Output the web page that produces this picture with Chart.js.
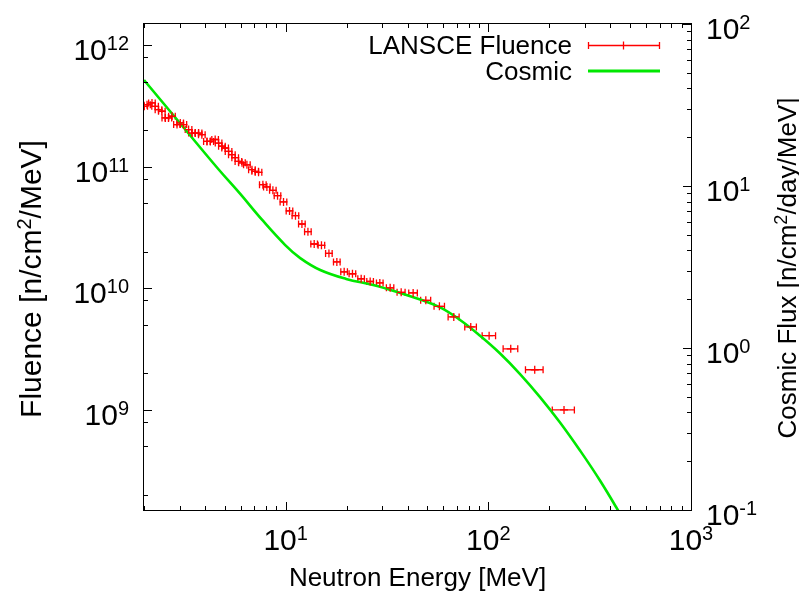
<!DOCTYPE html>
<html>
<head>
<meta charset="utf-8">
<title>Neutron Spectrum</title>
<script src="https://cdn.jsdelivr.net/npm/chart.js@4.4.1/dist/chart.umd.min.js"></script>
<style>
    html, body { margin: 0; padding: 0; background: #fff; }
    #spectrum { display: block; }
</style>
</head>
<body>
<canvas id="spectrum" width="799" height="591"></canvas>
<script>
// LANSCE beam fluence: bin centre, half bin width (MeV), fluence (n/cm^2/MeV)
const lansceEnergy = [
    2.007, 2.07, 2.19, 2.27, 2.36, 2.45, 2.55, 2.64, 2.75, 2.91,
    3.02, 3.13, 3.32, 3.45, 3.58, 3.72, 3.86, 4.09, 4.25, 4.49,
    4.67, 4.85, 5.03, 5.23, 5.43, 5.64, 5.85, 6.09, 6.44, 6.82,
    7.08, 7.35, 7.72, 8.08, 8.65, 9.12, 9.76, 10.45, 11.18, 12.03,
    12.88, 13.83, 15.02, 16.35, 17.89, 19.44, 21.36, 23.58, 26.12, 29.15,
    32.78, 37.15, 42.56, 49.15, 57.36, 67.54, 81.9, 100.9, 129.0, 169.4,
    236.3
];
const lansceBinHalf = [
    0.075, 0.078, 0.082, 0.085, 0.089, 0.092, 0.096, 0.099, 0.103, 0.109,
    0.113, 0.117, 0.125, 0.129, 0.134, 0.140, 0.145, 0.153, 0.159, 0.168,
    0.175, 0.182, 0.189, 0.196, 0.204, 0.212, 0.219, 0.228, 0.242, 0.256,
    0.266, 0.276, 0.29, 0.30, 0.32, 0.34, 0.37, 0.39, 0.42, 0.45,
    0.48, 0.52, 0.56, 0.61, 0.67, 0.73, 0.80, 0.88, 0.98, 1.09,
    1.38, 1.69, 2.08, 2.79, 3.39, 4.22, 5.40, 7.67, 10.7, 16.9,
    29.5
];
const lansceFluence = [
    3.15e11, 3.25e11, 3.36e11, 3.15e11, 2.96e11, 2.87e11, 2.53e11, 2.53e11, 2.61e11, 2.23e11,
    2.30e11, 2.23e11, 2.03e11, 1.90e11, 1.90e11, 1.90e11, 1.84e11, 1.62e11, 1.62e11, 1.68e11,
    1.57e11, 1.48e11, 1.43e11, 1.34e11, 1.26e11, 1.19e11, 1.11e11, 1.08e11, 1.04e11, 9.49e10,
    9.19e10, 9.02e10, 7.14e10, 6.84e10, 6.41e10, 5.80e10, 5.15e10, 4.34e10, 3.97e10, 3.39e10,
    2.93e10, 2.32e10, 2.26e10, 1.94e10, 1.65e10, 1.37e10, 1.32e10, 1.20e10, 1.14e10, 1.11e10,
    1.01e10, 9.28e9, 9.17e9, 7.97e9, 7.12e9, 5.82e9, 4.82e9, 4.08e9, 3.18e9, 2.14e9,
    1.00e9
];

// Sea-level cosmic neutron flux (n/cm^2/day/MeV)
const cosmicEnergy = [2.0, 3.02, 4.65, 5.97, 7.66, 9.95, 11.80, 14.81, 19.89, 27.03,
    35.49, 46.08, 57.83, 72.56, 91.05, 114.3, 143.4, 179.9, 225.8, 283.4, 355.6, 472.5];
const cosmicFlux = [45.1, 24.3, 12.73, 8.93, 6.17, 4.32, 3.59, 3.03, 2.67, 2.45,
    2.22, 1.99, 1.78, 1.49, 1.19, 0.925, 0.691, 0.498, 0.347, 0.233, 0.152, 0.0843];

// Axis ticks
const xMajorExp = [1, 2, 3];
const xMinor = [2, 3, 4, 5, 6, 7, 8, 9, 20, 30, 40, 50, 60, 70, 80, 90,
    200, 300, 400, 500, 600, 700, 800, 900];
const yMajorExp = [9, 10, 11, 12];
const yMinor = [2e8, 5e8, 8e8, 2e9, 5e9, 8e9, 2e10, 5e10, 8e10, 2e11, 5e11, 8e11];
const y2MajorExp = [-1, 0, 1, 2];
const y2Minor = [0.2, 0.3, 0.4, 0.5, 0.6, 0.7, 0.8, 0.9, 2, 3, 4, 5, 6, 7, 8, 9,
    20, 30, 40, 50, 60, 70, 80, 90];

const FONT = '"Liberation Sans", Arial, Helvetica, sans-serif';
const TEXT_PX = 26;
const TICK_PX = 30;
const RED = '#ff0000';
const GREEN = '#00e800';

// Draws a run of text pieces, some raised as superscripts, starting at x
function drawRich(ctx, parts, x, y, size) {
    let cx = x;
    parts.forEach(p => {
        ctx.font = Math.round(p.sup ? size * 0.68 : size) + 'px ' + FONT;
        ctx.fillText(p.t, cx, p.sup ? y - size / 3 : y);
        cx += ctx.measureText(p.t).width;
    });
}

function richWidth(ctx, parts, size) {
    return parts.reduce((w, p) => {
        ctx.font = Math.round(p.sup ? size * 0.68 : size) + 'px ' + FONT;
        return w + ctx.measureText(p.t).width;
    }, 0);
}

// "10^n" tick label with its baseline at y
function drawPow(ctx, exp, x, y, align) {
    const parts = [{ t: '10' }, { t: String(exp), sup: true }];
    const w = richWidth(ctx, parts, TICK_PX);
    let start = x;
    if (align === 'center') start = x - w / 2;
    if (align === 'right') start = x - w;
    drawRich(ctx, parts, start, y, TICK_PX);
}

function drawErrorBar(ctx, x1, x2, y, cap) {
    ctx.beginPath();
    ctx.moveTo(x1, y);
    ctx.lineTo(x2, y);
    ctx.moveTo(x1, y - cap);
    ctx.lineTo(x1, y + cap);
    ctx.moveTo(x2, y - cap);
    ctx.lineTo(x2, y + cap);
    ctx.stroke();
}

const errorBarPlugin = {
    id: 'xErrorBars',
    beforeDatasetsDraw(chart) {
        const { ctx, chartArea, scales } = chart;
        ctx.save();
        ctx.beginPath();
        ctx.rect(chartArea.left, chartArea.top, chartArea.right - chartArea.left, chartArea.bottom - chartArea.top);
        ctx.clip();
        ctx.strokeStyle = RED;
        ctx.lineWidth = 1.3;
        lansceEnergy.forEach((e, i) => {
            const x1 = scales.x.getPixelForValue(e - lansceBinHalf[i]);
            const x2 = scales.x.getPixelForValue(e + lansceBinHalf[i]);
            const y = scales.y.getPixelForValue(lansceFluence[i]);
            drawErrorBar(ctx, x1, x2, y, 3.5);
        });
        ctx.restore();
    }
};

const framePlugin = {
    id: 'frame',
    afterDraw(chart) {
        const { ctx, chartArea: a, scales } = chart;
        ctx.save();
        ctx.strokeStyle = '#000';
        ctx.lineWidth = 1;

        // border
        ctx.strokeRect(a.left - 0.5, a.top - 0.5, a.right - a.left + 1, a.bottom - a.top + 1);

        // x ticks on bottom and top, all ticks point inward
        ctx.beginPath();
        const xTick = (v, len) => {
            const px = Math.round(scales.x.getPixelForValue(v)) + 0.5;
            ctx.moveTo(px, a.bottom); ctx.lineTo(px, a.bottom - len);
            ctx.moveTo(px, a.top); ctx.lineTo(px, a.top + len);
        };
        xMajorExp.forEach(n => xTick(Math.pow(10, n), 8));
        xMinor.forEach(v => xTick(v, 4));

        const yTick = (v, len) => {
            const py = Math.round(scales.y.getPixelForValue(v)) + 0.5;
            ctx.moveTo(a.left, py); ctx.lineTo(a.left + len, py);
        };
        yMajorExp.forEach(n => yTick(Math.pow(10, n), 8));
        yMinor.forEach(v => yTick(v, 4));

        const y2Tick = (v, len) => {
            const py = Math.round(scales.y2.getPixelForValue(v)) + 0.5;
            ctx.moveTo(a.right, py); ctx.lineTo(a.right - len, py);
        };
        y2MajorExp.forEach(n => y2Tick(Math.pow(10, n), 8));
        y2Minor.forEach(v => y2Tick(v, 4));
        ctx.stroke();

        // tick labels
        ctx.fillStyle = '#000';
        ctx.textBaseline = 'alphabetic';
        ctx.textAlign = 'left';
        xMajorExp.forEach(n => drawPow(ctx, n, scales.x.getPixelForValue(Math.pow(10, n)), 550, 'center'));
        yMajorExp.forEach(n => drawPow(ctx, n, 129, scales.y.getPixelForValue(Math.pow(10, n)) + 15, 'right'));
        y2MajorExp.forEach(n => drawPow(ctx, n, 706, scales.y2.getPixelForValue(Math.pow(10, n)) + 15, 'left'));

        // axis titles
        const xTitle = [{ t: 'Neutron Energy [MeV]' }];
        drawRich(ctx, xTitle, (a.left + a.right) / 2 - richWidth(ctx, xTitle, TEXT_PX) / 2, 586, TEXT_PX);

        const yTitle = [{ t: 'Fluence [n/cm' }, { t: '2', sup: true }, { t: '/MeV]' }];
        ctx.save();
        ctx.translate(41, 279);
        ctx.rotate(-Math.PI / 2);
        drawRich(ctx, yTitle, -richWidth(ctx, yTitle, TICK_PX) / 2, 0, TICK_PX);
        ctx.restore();

        const y2Title = [{ t: 'Cosmic Flux [n/cm' }, { t: '2', sup: true }, { t: '/day/MeV]' }];
        ctx.save();
        ctx.translate(796, 268);
        ctx.rotate(-Math.PI / 2);
        drawRich(ctx, y2Title, -richWidth(ctx, y2Title, TEXT_PX) / 2, 0, TEXT_PX);
        ctx.restore();

        // key
        ctx.font = TEXT_PX + 'px ' + FONT;
        ctx.textAlign = 'right';
        ctx.fillText('LANSCE Fluence', 572, 54);
        ctx.fillText('Cosmic', 572, 80);

        ctx.strokeStyle = RED;
        ctx.lineWidth = 1.3;
        drawErrorBar(ctx, 588.5, 659.5, 45.5, 3.5);
        ctx.beginPath();
        ctx.moveTo(623.5, 41.5); ctx.lineTo(623.5, 49.5);
        ctx.stroke();

        ctx.strokeStyle = GREEN;
        ctx.lineWidth = 3;
        ctx.beginPath();
        ctx.moveTo(588, 71); ctx.lineTo(660, 71);
        ctx.stroke();
        ctx.restore();
    }
};

function buildChart() {
    const ctx = document.getElementById('spectrum').getContext('2d');
    return new Chart(ctx, {
        type: 'scatter',
        data: {
            datasets: [
                {
                    label: 'LANSCE Fluence',
                    data: lansceEnergy.map((e, i) => ({ x: e, y: lansceFluence[i] })),
                    yAxisID: 'y',
                    pointStyle: 'cross',
                    pointRadius: 4,
                    borderColor: RED,
                    backgroundColor: RED,
                    borderWidth: 1.3,
                    showLine: false
                },
                {
                    label: 'Cosmic',
                    data: cosmicEnergy.map((e, i) => ({ x: e, y: cosmicFlux[i] })),
                    yAxisID: 'y2',
                    showLine: true,
                    pointRadius: 0,
                    borderColor: GREEN,
                    borderWidth: 2.6,
                    tension: 0.4
                }
            ]
        },
        options: {
            responsive: false,
            animation: false,
            events: [],
            layout: { padding: { top: 24, left: 0, right: 0, bottom: 0 } },
            plugins: {
                legend: { display: false },
                tooltip: { enabled: false }
            },
            scales: {
                x: {
                    type: 'logarithmic',
                    min: 2,
                    max: 1000,
                    grid: { display: false },
                    border: { display: false },
                    ticks: { display: false },
                    afterFit: s => { s.height = 81; }
                },
                y: {
                    type: 'logarithmic',
                    position: 'left',
                    min: 1.5e8,
                    max: 1.5e12,
                    grid: { display: false },
                    border: { display: false },
                    ticks: { display: false },
                    afterFit: s => { s.width = 144; }
                },
                y2: {
                    type: 'logarithmic',
                    position: 'right',
                    min: 0.1,
                    max: 100,
                    grid: { display: false },
                    border: { display: false },
                    ticks: { display: false },
                    afterFit: s => { s.width = 108; }
                }
            }
        },
        plugins: [errorBarPlugin, framePlugin]
    });
}

document.addEventListener('DOMContentLoaded', () => {
    window.spectrumChart = buildChart();
});
</script>
</body>
</html>
